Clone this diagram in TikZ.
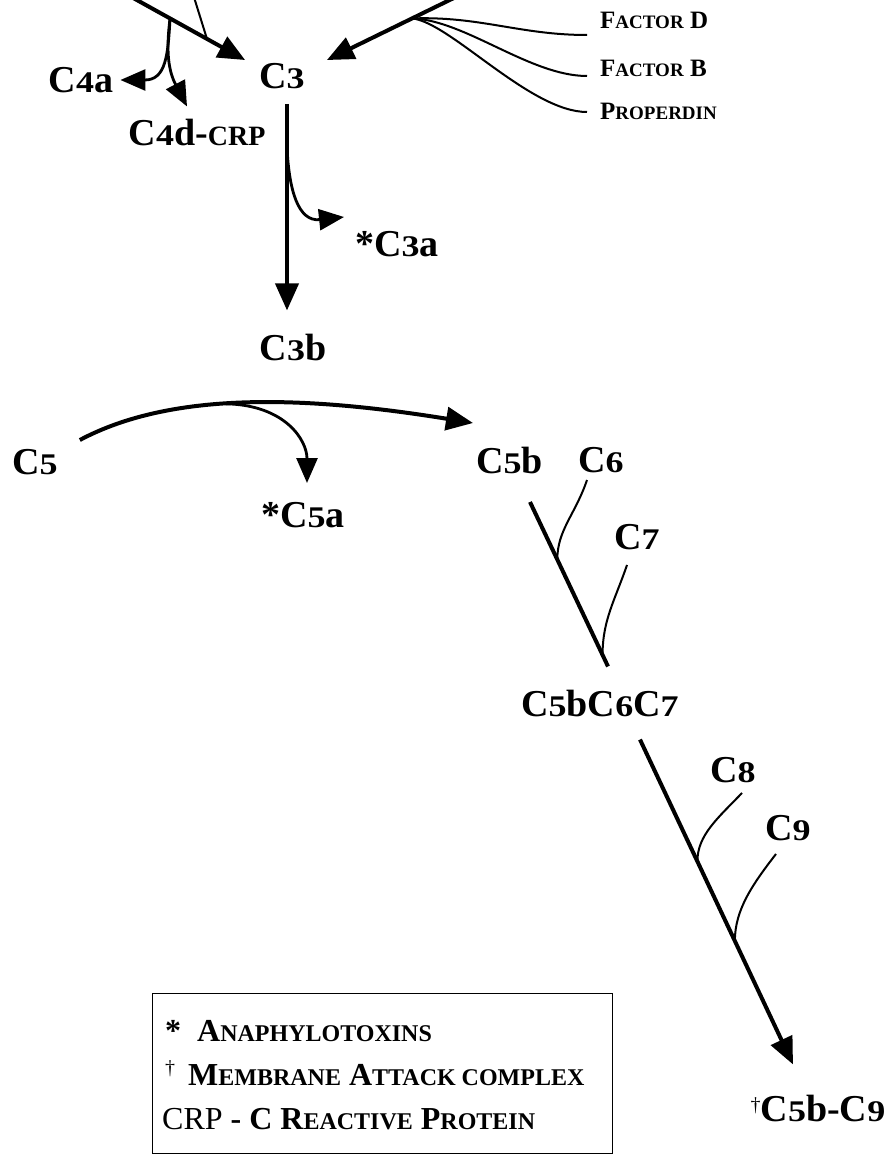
\documentclass[tikz,border=0pt]{standalone}
\usepackage{fontspec}
\usepackage{graphicx}
\setmainfont{Liberation Serif}
\usetikzlibrary{arrows.meta,calc}
% old-style looking digits: smaller but full width
\newcommand\od[1]{\scalebox{1.2}[1]{\fontsize{30}{30}\selectfont #1}}
\newcommand\ssc[1]{{\fontsize{28}{28}\selectfont #1}}
\newcommand\fsc[1]{{\fontsize{19}{19}\selectfont #1}}
\newcommand\lsc[1]{{\fontsize{24}{24}\selectfont #1}}
\tikzset{
  lbl/.style={inner sep=0pt, font=\fontsize{38}{38}\selectfont\bfseries},
  flbl/.style={inner sep=0pt, anchor=base west, font=\fontsize{25}{25}\selectfont\bfseries},
  leg/.style={inner sep=0pt, anchor=base west, font=\fontsize{32}{32}\selectfont\bfseries},
  thickline/.style={line width=4pt},
  thinline/.style={line width=2pt},
  bigarrow/.style={thickline, -{Triangle[length=27pt,width=23pt]}},
  smallarrow/.style={line width=2.8pt, -{Triangle[length=25pt,width=21pt]}},
}
\begin{document}
\begin{tikzpicture}[x=1pt,y=-1pt]
\useasboundingbox (0,0) rectangle (889,1156);
\clip (0,0) rectangle (889,1156);
% labels
\node[lbl] (c3) at (282,76) {C\od{3}};
\node[lbl] (c4a) at (81,80) {C\od{4}a};
\node[lbl] (c4d) at (197,133) {C\od{4}d-\ssc{CRP}};
\node[flbl] (fd) at (600,29) {F\fsc{ACTOR} D};
\node[flbl] (fb) at (600,76) {F\fsc{ACTOR} B};
\node[flbl] (pr) at (600,119) {P\fsc{ROPERDIN}};
\node[lbl,anchor=west] (c3a) at (355,244) {*C\od{3}a};
\node[lbl] (c3b) at (293,347) {C\od{3}b};
\node[lbl,anchor=west] (c5) at (12,462) {C\od{5}};
\node[lbl,anchor=west] (c5b) at (476,460) {C\od{5}b};
\node[lbl,anchor=west] (c6) at (578,460) {C\od{6}};
\node[lbl,anchor=west] (c5a) at (261,515) {*C\od{5}a};
\node[lbl] (c7) at (637,537) {C\od{7}};
\node[lbl] (c567) at (600,703) {C\od{5}bC\od{6}C\od{7}};
\node[lbl] (c8) at (733,770) {C\od{8}};
\node[lbl] (c9) at (788,828) {C\od{9}};
\node[lbl] (mac) at (818,1108) {{\mdseries\fontsize{20}{20}\selectfont\raisebox{10pt}{†}}C\od{5}b-C\od{9}};
% top left inflow
\coordinate (tl) at (126,-6);
\coordinate (tt) at (193,-6);
\coordinate (tipA) at ($(c3.north west)+(-14,-3)$);
\draw[bigarrow] (tl) -- coordinate[pos=0.37] (j1) coordinate[pos=0.68] (j0) (tipA);
\draw[thinline] (tt) -- (j0);
\draw[smallarrow] (j1) .. controls (168,55) and (166,80) .. ($(c4a.east)+(7,0)$);
\draw[smallarrow] (j1) .. controls (166,50) and (168,70) .. ($(c4d.north)+(-10,-13)$);
% top right inflow
\coordinate (tr) at (462,-6);
\coordinate (tipB) at ($(c3.north east)+(22,-3)$);
\draw[bigarrow] (tr) -- coordinate[pos=0.37] (jf) (tipB);
\draw[thinline] (jf) .. controls (480,16) and (520,35) .. ($(fd.base west)+(-13,6)$);
\draw[thinline] (jf) .. controls (465,20) and (530,76) .. ($(fb.base west)+(-13,0)$);
\draw[thinline] (jf) .. controls (450,22) and (530,112) .. ($(pr.base west)+(-13,-7)$);
% C3 -> C3b
\coordinate (s3) at ($(c3.south)+(5,15)$);
\coordinate (e3) at ($(c3b.north)+(-6,-23)$);
\draw[bigarrow] (s3) -- coordinate[pos=0.21] (j3) (e3);
\draw[smallarrow] (j3) .. controls (289,190) and (298,222) .. ($(c3a.west)+(-11,-27)$);
% C5 -> C5b
\draw[bigarrow] ($(c5.east)+(22,-22)$) .. controls (170,392) and (300,395) .. coordinate[pos=0.45] (j5) ($(c5b.west)+(-3,-37)$);
\draw[smallarrow] (j5) .. controls (285,405) and (307,440) .. ($(c5a.west)+(46,-32)$);
% C5b + C6 + C7
\coordinate (m1) at ($(c5b.west)+(54,42)$);
\coordinate (m2) at ($(c567.north)+(8,-23)$);
\draw[thickline] (m1) -- coordinate[pos=0.35] (k6) coordinate[pos=0.93] (k7) (m2);
\draw[thinline] ($(c6.west)+(9,20)$) .. controls (575,515) and (k6 |- 0,530) .. (k6);
\draw[thinline] ($(c7.south)+(-10,15)$) .. controls (615,600) and (k7 |- 0,620) .. (k7);
% C5bC6C7 + C8 + C9
\coordinate (n1) at ($(c567.south)+(40,23)$);
\coordinate (n2) at ($(mac.north)+(-25,-30)$);
\draw[bigarrow] (n1) -- coordinate[pos=0.375] (k8) coordinate[pos=0.62] (k9) (n2);
\draw[thinline] ($(c8.south)+(9,10)$) .. controls (718,818) and (k8 |- 0,835) .. (k8);
\draw[thinline] ($(c9.south)+(-12,13)$) .. controls (752,885) and (k9 |- 0,910) .. (k9);
% legend
\node[draw, line width=1.3pt, minimum width=460pt, minimum height=160pt, inner sep=0pt, anchor=north west] (legbox) at (152,993) {};
\node[leg] (l1a) at (165,1041) {*};
\node[leg] (l1) at (197,1041) {A\lsc{NAPHYLOTOXINS}};
\node[leg] (l2a) at (165,1085) {{\mdseries\fontsize{20}{20}\selectfont\raisebox{11pt}{†}}};
\node[leg] (l2) at (188,1085) {M\lsc{EMBRANE} A\lsc{TTACK COMPLEX}};
\node[leg] (l3) at (162,1129) {{\mdseries CRP} - C R\lsc{EACTIVE} P\lsc{ROTEIN}};
\end{tikzpicture}
\end{document}
